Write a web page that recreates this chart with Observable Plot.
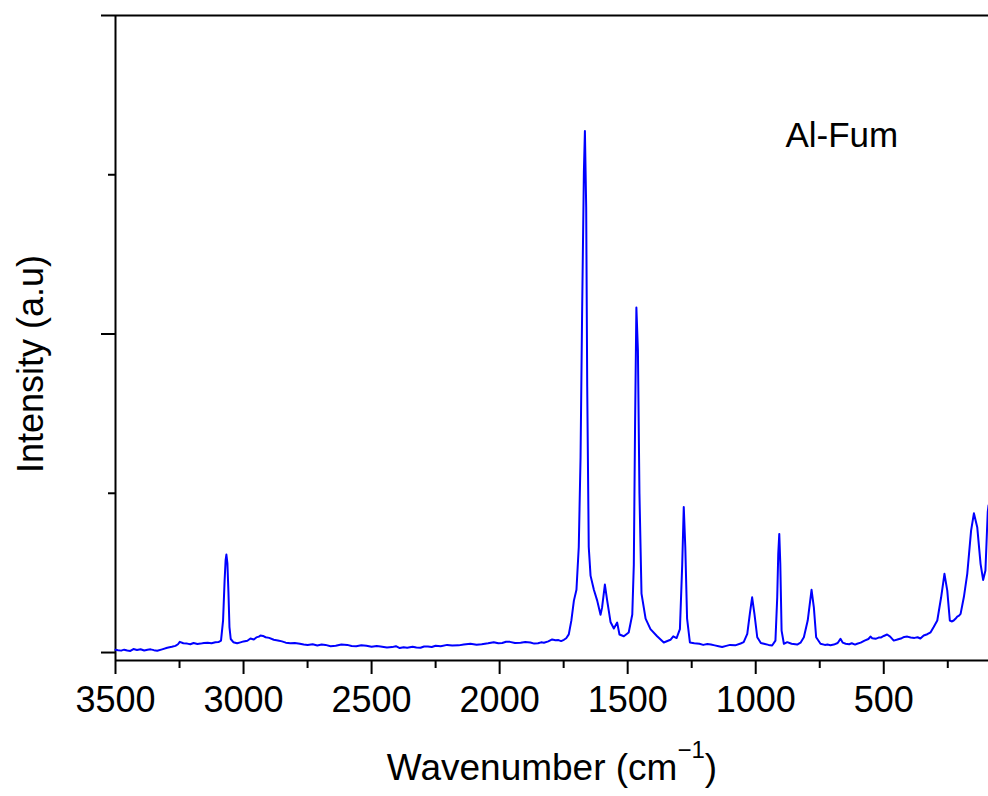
<!DOCTYPE html>
<html>
<head>
<meta charset="utf-8">
<script src="https://cdn.jsdelivr.net/npm/d3@7"></script>
<script src="https://cdn.jsdelivr.net/npm/@observablehq/plot@0.6"></script>
<style>
  html, body { margin: 0; padding: 0; background: #fff; }
  #xtitle { width: 988px; box-sizing: border-box; padding-left: 116px; text-align: center;
    font-family: "Liberation Sans", Arial, sans-serif; font-size: 37px; line-height: 40px; color: #000; }
  #xtitle sup { font-size: 24px; line-height: 0; vertical-align: 22px; }
</style>
</head>
<body>
<div id="chart"></div>
<div id="xtitle">Wavenumber (cm<sup>−1</sup>)</div>
<script>
// Raman spectrum
const wavenumber = [3500,3490,3478,3466,3454,3442,3430,3416,3402,3388,3375,3363,3350,3337,3318,3298,3280,3266,3256,3249,3235,3220,3208,3195,3180,3168,3155,3140,3125,3110,3098,3088,3080,3074,3070,3067,3063,3059,3055,3050,3040,3025,3012,3000,2985,2973,2960,2950,2940,2934,2924,2914,2900,2882,2866,2850,2835,2817,2800,2780,2765,2750,2730,2712,2695,2680,2660,2640,2618,2595,2578,2560,2540,2520,2500,2480,2465,2440,2420,2405,2390,2375,2361,2340,2325,2309,2295,2280,2265,2250,2230,2205,2185,2160,2140,2114,2090,2070,2045,2023,2005,1990,1975,1960,1940,1918,1900,1880,1865,1850,1838,1827,1810,1795,1782,1770,1760,1749,1740,1730,1720,1710,1700,1691,1684,1678,1671,1667,1662,1658,1652,1645,1632,1619,1606,1600,1589,1580,1567,1554,1541,1532,1515,1496,1482,1476,1471,1466,1460,1454,1446,1430,1411,1385,1359,1333,1322,1309,1296,1287,1281,1275,1268,1257,1240,1220,1205,1189,1175,1160,1145,1131,1115,1100,1080,1059,1047,1033,1023,1014,1005,994,980,968,950,936,923,916,912,908,904,899,890,877,860,838,825,812,797,782,773,764,747,730,720,708,695,680,669,660,649,635,625,612,604,590,575,560,552,545,532,520,510,500,487,475,461,450,440,430,420,408,395,380,368,357,344,330,317,305,291,276,263,252,242,235,227,220,213,206,200,187,174,159,148,135,122,112,103,94,91];
const intensity = [0.017,0.014,0.012,0.018,0.013,0.010,0.022,0.016,0.021,0.013,0.018,0.020,0.015,0.011,0.020,0.030,0.036,0.042,0.052,0.067,0.058,0.056,0.052,0.060,0.054,0.056,0.060,0.062,0.058,0.065,0.066,0.075,0.200,0.450,0.580,0.615,0.560,0.380,0.160,0.085,0.065,0.058,0.064,0.070,0.074,0.088,0.082,0.095,0.100,0.107,0.104,0.096,0.092,0.080,0.076,0.070,0.062,0.058,0.060,0.055,0.050,0.047,0.052,0.044,0.050,0.048,0.040,0.042,0.050,0.048,0.041,0.040,0.046,0.043,0.036,0.041,0.038,0.032,0.034,0.040,0.028,0.033,0.030,0.036,0.031,0.030,0.038,0.038,0.035,0.043,0.040,0.048,0.044,0.045,0.050,0.055,0.049,0.052,0.058,0.065,0.058,0.060,0.068,0.067,0.060,0.061,0.066,0.063,0.056,0.058,0.064,0.061,0.070,0.082,0.077,0.078,0.072,0.080,0.090,0.114,0.200,0.326,0.394,0.663,1.224,2.122,3.017,3.274,2.793,1.672,0.663,0.483,0.394,0.326,0.237,0.282,0.427,0.326,0.192,0.151,0.188,0.113,0.102,0.126,0.239,0.552,1.450,2.166,1.896,0.998,0.370,0.213,0.147,0.102,0.063,0.080,0.102,0.091,0.147,0.552,0.914,0.663,0.213,0.063,0.058,0.055,0.048,0.053,0.050,0.045,0.040,0.035,0.042,0.048,0.045,0.057,0.065,0.117,0.243,0.347,0.243,0.096,0.060,0.055,0.048,0.044,0.075,0.347,0.620,0.745,0.557,0.138,0.055,0.065,0.055,0.050,0.062,0.096,0.201,0.394,0.284,0.096,0.055,0.048,0.050,0.046,0.050,0.060,0.086,0.062,0.055,0.052,0.058,0.050,0.055,0.062,0.075,0.085,0.100,0.090,0.086,0.094,0.095,0.104,0.113,0.100,0.075,0.080,0.085,0.090,0.098,0.100,0.094,0.092,0.096,0.088,0.107,0.115,0.127,0.160,0.201,0.347,0.494,0.389,0.201,0.195,0.201,0.212,0.226,0.232,0.243,0.350,0.494,0.766,0.874,0.787,0.557,0.456,0.515,0.881,0.923];

const xMajor = [3500, 3000, 2500, 2000, 1500, 1000, 500];
const xMinor = [3250, 2750, 2250, 1750, 1250, 750, 250];
const yMajor = [0, 2, 4];
const yMinor = [1, 3];

const yTitle = ["Intensity (a.u)"];
const sampleLabel = ["Al-Fum"];
const sampleLabelX = [884];
const sampleLabelY = [3.242];

const spectrum = wavenumber.map((v, i) => ({v, I: intensity[i]}));
const labels = sampleLabel.map((t, i) => ({t, x: sampleLabelX[i], y: sampleLabelY[i]}));

const font = "'Liberation Sans', Arial, sans-serif";

const chart = Plot.plot({
  width: 988,
  height: 748,
  marginLeft: 115,
  marginRight: 0,
  marginTop: 15,
  marginBottom: 88,
  style: {fontFamily: font, fontSize: "36px", color: "#000", background: "#fff", overflow: "visible"},
  x: {domain: [3500, 91]},
  y: {domain: [-0.05, 4.0]},
  marks: [
    Plot.ruleY([-0.05], {stroke: "#000", strokeWidth: 2}),
    Plot.ruleY([4], {stroke: "#000", strokeWidth: 2}),
    Plot.ruleX([3500], {stroke: "#000", strokeWidth: 2}),
    Plot.axisX({ticks: xMajor, tickSize: 14, tickPadding: 12, tickFormat: d => String(d), strokeWidth: 2, label: null, fontSize: 36}),
    Plot.axisX({ticks: xMinor, tickSize: 8, tickFormat: () => "", strokeWidth: 2, label: null}),
    Plot.axisY({ticks: yMajor, tickSize: 14, tickFormat: () => "", strokeWidth: 2, label: null}),
    Plot.axisY({ticks: yMinor, tickSize: 7, tickFormat: () => "", strokeWidth: 2, label: null}),
    Plot.line(spectrum, {x: "v", y: "I", stroke: "#0000ff", strokeWidth: 2, strokeLinejoin: "round"}),
    Plot.text(labels, {x: "x", y: "y", text: "t", textAnchor: "start", lineAnchor: "middle", fontSize: 35, fill: "#000"}),
    Plot.text(yTitle, {frameAnchor: "left", textAnchor: "middle", rotate: -90, dx: -84, dy: 26, lineAnchor: "middle", fontSize: 36, fill: "#000"})
  ]
});
document.getElementById("chart").append(chart);
</script>
</body>
</html>
